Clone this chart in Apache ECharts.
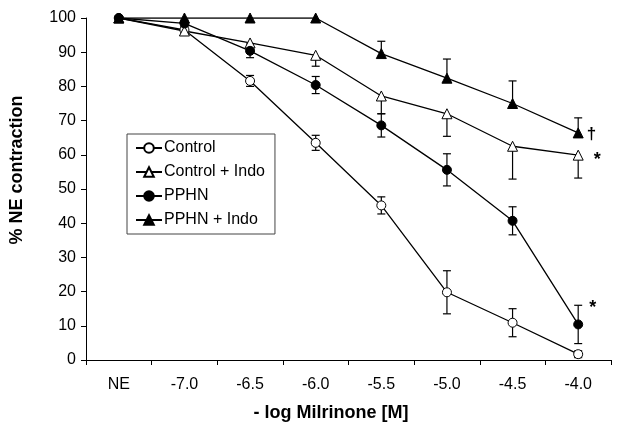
<!DOCTYPE html>
<html><head><meta charset="utf-8">
<script src="https://cdn.jsdelivr.net/npm/echarts@6/dist/echarts.min.js"></script>
<style>html,body{margin:0;padding:0;background:#fff}#c{width:622px;height:431px}</style>
</head><body><div id="c"></div>
<script>
var categories = ['NE', '-7.0', '-6.5', '-6.0', '-5.5', '-5.0', '-4.5', '-4.0'];
var yTicks = [0, 10, 20, 30, 40, 50, 60, 70, 80, 90, 100];
var control = [100, 96.5, 81.6, 63.5, 45.2, 19.8, 10.9, 1.7];
var controlErr = [0, 1, 1.6, 2.2, 2.5, 6.3, 4.1, 1.0];
var controlIndo = [100, 96.2, 92.7, 89.1, 77.2, 72.0, 62.5, 59.9];
var controlIndoErr = [0, 1.2, 0, 3.2, 5.2, 6.6, 9.6, 6.7];
var pphn = [100, 98.4, 90.4, 80.4, 68.6, 55.6, 40.7, 10.4];
var pphnErr = [0, 1, 2, 2.5, 3.4, 4.7, 4.1, 5.6];
var pphnIndo = [100, 100, 100, 100, 89.6, 82.4, 75.0, 66.4];
var pphnIndoErr = [0, 0, 0, 0, 3.6, 5.6, 6.6, 4.4];
var notes = [
  {series: 'PPHN + Indo', idx: 7, text: '\u2020', dx: -2, dy: 1},
  {series: 'Control + Indo', idx: 7, text: '*', dx: 5, dy: 5},
  {series: 'PPHN', idx: 7, text: '*', dx: 1, dy: -16}
];

var chart = echarts.init(document.getElementById('c'));
var FONT = 'Liberation Sans, Arial, sans-serif';

function errData(vals, errs, mode) {
  var out = [];
  for (var i = 0; i < vals.length; i++) {
    if (!errs[i]) continue;
    var lo = vals[i] - errs[i], hi = vals[i] + errs[i];
    if (mode === 'down') hi = vals[i];
    if (mode === 'up') lo = vals[i];
    out.push([i, lo, hi]);
  }
  return out;
}
function errSeries(vals, errs, mode) {
  return {
    type: 'custom', z: 1, silent: true,
    data: errData(vals, errs, mode),
    renderItem: function (params, api) {
      var x = api.value(0);
      var lo = api.coord([x, api.value(1)]);
      var hi = api.coord([x, api.value(2)]);
      var w = 4;
      var st = {stroke: '#000', lineWidth: 1.2};
      var ch = [{type: 'line', shape: {x1: lo[0], y1: lo[1], x2: hi[0], y2: hi[1]}, style: st}];
      if (mode !== 'down') ch.push({type: 'line', shape: {x1: hi[0] - w, y1: hi[1], x2: hi[0] + w, y2: hi[1]}, style: st});
      if (mode !== 'up') ch.push({type: 'line', shape: {x1: lo[0] - w, y1: lo[1], x2: lo[0] + w, y2: lo[1]}, style: st});
      return {type: 'group', children: ch};
    }
  };
}
function withNotes(name, vals) {
  return vals.map(function (v, i) {
    var n = notes.filter(function (o) { return o.series === name && o.idx === i; })[0];
    if (!n) return v;
    return {value: v, label: {show: true, formatter: n.text, position: 'right', offset: [n.dx, n.dy],
      color: '#000', fontSize: n.text === '*' ? 18 : 17, fontWeight: 'bold', fontFamily: FONT}};
  });
}
function lineSeries(name, vals, symbol, fill, size) {
  return {
    name: name, type: 'line', z: 3, data: withNotes(name, vals),
    symbol: symbol, symbolSize: size, showSymbol: true,
    lineStyle: {color: '#000', width: 1.3},
    itemStyle: {color: fill, borderColor: '#000', borderWidth: 1},
    emphasis: {disabled: true}, animation: false
  };
}

chart.setOption({
  animation: false,
  grid: {left: 86, right: 11, top: 18, bottom: 71},
  xAxis: {
    type: 'category', data: categories, boundaryGap: true,
    axisLine: {lineStyle: {color: '#000', width: 1}},
    axisTick: {show: true, alignWithLabel: false, length: 5, lineStyle: {color: '#000'}},
    axisLabel: {color: '#000', fontSize: 16, fontFamily: FONT, margin: 17}
  },
  yAxis: {
    type: 'value', min: 0, max: 100, interval: 10,
    splitLine: {show: false},
    axisLine: {show: true, lineStyle: {color: '#000', width: 1}},
    axisTick: {show: true, length: 5, lineStyle: {color: '#000'}},
    axisLabel: {color: '#000', fontSize: 16, fontFamily: FONT, margin: 10,
      formatter: function (v) { return yTicks.indexOf(v) >= 0 ? String(v) : ''; }}
  },
  legend: {
    orient: 'vertical', left: 127, top: 134,
    padding: [6, 10, 6, 8], itemGap: 8, itemWidth: 26, itemHeight: 12,
    borderColor: '#444', borderWidth: 1, backgroundColor: '#fff',
    textStyle: {color: '#000', fontSize: 16, fontFamily: FONT, padding: [0, 0, 0, -3]},
    data: ['Control', 'Control + Indo', 'PPHN', 'PPHN + Indo'],
    selectedMode: false
  },
  graphic: [
    {type: 'text', x: 331, y: 413, style: {text: '- log Milrinone [M]', fontSize: 18, fontWeight: 'bold', fill: '#000', fontFamily: FONT, textAlign: 'center', textVerticalAlign: 'middle'}},
    {type: 'text', x: 17, y: 170, rotation: Math.PI / 2, style: {text: '% NE contraction', fontSize: 18, fontWeight: 'bold', fill: '#000', fontFamily: FONT, textAlign: 'center', textVerticalAlign: 'middle'}}
  ],
  series: [
    errSeries(control, controlErr, 'both'),
    errSeries(controlIndo, controlIndoErr, 'down'),
    errSeries(pphn, pphnErr, 'both'),
    errSeries(pphnIndo, pphnIndoErr, 'up'),
    lineSeries('Control', control, 'circle', '#fff', 9),
    lineSeries('Control + Indo', controlIndo, 'triangle', '#fff', 10),
    lineSeries('PPHN', pphn, 'circle', '#000', 9),
    lineSeries('PPHN + Indo', pphnIndo, 'triangle', '#000', 10)
  ]
});
</script></body></html>
